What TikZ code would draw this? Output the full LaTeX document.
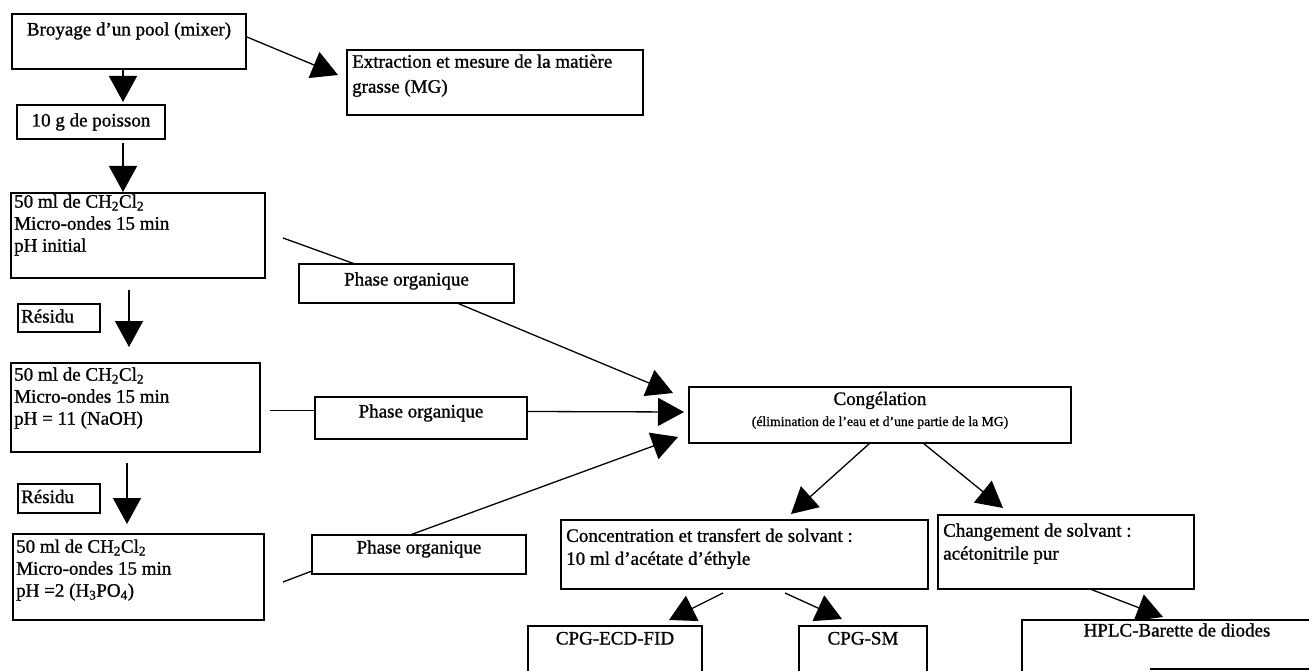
\documentclass[tikz,border=0pt]{standalone}
\usepackage{fontspec}
\setmainfont{Liberation Serif}[FakeBold=1.0]
\usetikzlibrary{arrows.meta,calc}
\begin{document}
\begin{tikzpicture}[x=1pt,y=-1pt,
  boxs/.style={draw, line width=1.4pt, inner sep=0pt, outer sep=0pt, anchor=north west},
  txt/.style={inner sep=0pt, font=\fontsize{19}{22}\selectfont},
  txtl/.style={txt, align=left, anchor=north west},
  arr/.style={line width=1.3pt, -{Triangle[length=26pt,width=28pt]}},
  ln/.style={line width=1.3pt}]
\useasboundingbox[fill=white] (0,0) rectangle (1309,671);
% boxes
\node[boxs, minimum width=234pt, minimum height=55pt] (b) at (12,14) {};
\node[boxs, minimum width=296pt, minimum height=65pt] (ext) at (347,50) {};
\node[boxs, minimum width=148pt, minimum height=34pt] (g10) at (17,105) {};
\node[boxs, minimum width=254pt, minimum height=85pt] (A) at (11,193) {};
\node[boxs, minimum width=82pt, minimum height=28pt] (r1) at (18,304) {};
\node[boxs, minimum width=249pt, minimum height=89pt] (B) at (11,363) {};
\node[boxs, minimum width=82pt, minimum height=29pt] (r2) at (18,484) {};
\node[boxs, minimum width=251pt, minimum height=86pt] (C) at (13,534) {};
\node[boxs, minimum width=215pt, minimum height=39pt] (po1) at (299,264) {};
\node[boxs, minimum width=212pt, minimum height=42pt] (po2) at (315,397) {};
\node[boxs, minimum width=214pt, minimum height=39pt] (po3) at (312,535) {};
\node[boxs, minimum width=382pt, minimum height=56pt] (cong) at (689,387) {};
\node[boxs, minimum width=367pt, minimum height=69pt] (conc) at (561,520) {};
\node[boxs, minimum width=256pt, minimum height=74pt] (chg) at (938,515) {};
\node[boxs, minimum width=174pt, minimum height=64pt] (cpg1) at (528,626) {};
\node[boxs, minimum width=128pt, minimum height=64pt] (cpg2) at (799,626) {};
\node[boxs, minimum width=310pt, minimum height=70pt] (hplc) at (1022,620) {};
% texts
\node[txt, anchor=base] (b-t) at (129,35.5) {Broyage d'un pool (mixer)};
\node[txtl, font=\fontsize{19}{25}\selectfont] (ext-t) at (352,54.3) {Extraction et mesure de la matière\\grasse (MG)};
\node[txt, anchor=base] (g10-t) at (91,126.5) {10 g de poisson};
\node[txtl] (A-t) at (14,194.3) {50 ml de CH\textsubscript{2}Cl\textsubscript{2}\\Micro-ondes 15 min\\pH initial};
\node[txt, anchor=base west] (r1-t) at (21,322.5) {Résidu};
\node[txtl] (B-t) at (14,367.3) {50 ml de CH\textsubscript{2}Cl\textsubscript{2}\\Micro-ondes 15 min\\pH = 11 (NaOH)};
\node[txt, anchor=base west] (r2-t) at (21,503) {Résidu};
\node[txtl] (C-t) at (16,539.3) {50 ml de CH\textsubscript{2}Cl\textsubscript{2}\\Micro-ondes 15 min\\pH =2 (H\textsubscript{3}PO\textsubscript{4})};
\node[txt, anchor=base] (po1-t) at (406.5,285.5) {Phase organique};
\node[txt, anchor=base] (po2-t) at (421,417.5) {Phase organique};
\node[txt, anchor=base] (po3-t) at (419,553.5) {Phase organique};
\node[txt, anchor=base] (cong-t1) at (880,405) {Congélation};
\node[txt, anchor=base, font=\fontsize{13.7}{16}\selectfont] (cong-t2) at (880,426) {(élimination de l'eau et d'une partie de la MG)};
\node[txtl, font=\fontsize{19}{23}\selectfont] (conc-t) at (566,528.3) {Concentration et transfert de solvant :\\10 ml d'acétate d'éthyle};
\node[txtl, font=\fontsize{19}{23}\selectfont] (chg-t) at (943,523.3) {Changement de solvant :\\acétonitrile pur};
\node[txt, anchor=base] (cpg1-t) at (615,644.5) {CPG-ECD-FID};
\node[txt, anchor=base] (cpg2-t) at (863,644.5) {CPG-SM};
\node[txt, anchor=base] (hplc-t) at (1177,636.5) {HPLC-Barette de diodes};
% connectors
\coordinate (xa) at (123,0);
\coordinate (xb) at (129,0);
\coordinate (xc) at (127,0);
\draw[arr] (b.south -| xa) -- ($(g10.north -| xa)+(0,-3)$);
\draw[arr] ($(g10.south -| xa)+(0,4)$) -- ($(A.north -| xa)+(0,-1)$);
\draw[arr] ($(A.south -| xb)+(0,12)$) -- ($(B.north -| xb)+(0,-16)$);
\draw[arr] ($(B.south -| xc)+(0,11)$) -- ($(C.north -| xc)+(0,-10)$);
\draw[arr] ($(b.east)+(1,-4.5)$) -- ($(ext.west)+(-9,-7.5)$);
\draw[ln] ($(A.east)+(18,2.5)$) -- ($(po1.north)+(-51.5,0)$);
\draw[arr] ($(po1.south)+(50.5,0)$) -- ($(cong.west)+(-16,-22)$);
\draw[ln] ($(B.east)+(10,3)$) -- ($(po2.west)+(0,-7.5)$);
\draw[arr] ($(po2.east)+(0,-6.5)$) -- ($(cong.west)+(-5,-3)$);
\draw[ln] ($(C.east)+(19,5)$) -- ($(po3.south west)+(0,-3)$);
\draw[arr] ($(po3.north)+(-9,0)$) -- ($(cong.south west)+(-11,-6)$);
\draw[arr] ($(cong.south)+(-10,0)$) -- ($(conc.north)+(46.5,-6)$);
\draw[arr] ($(cong.south)+(43,0)$) -- ($(chg.north)+(-63,-7)$);
\draw[arr] ($(conc.south)+(-21.5,4)$) -- ($(cpg1.north)+(54,-6)$);
\draw[arr] ($(conc.south)+(40.5,4)$) -- ($(cpg2.north)+(-21,-7)$);
\draw[arr] ($(chg.south)+(24,0)$) -- ($(hplc.north)+(-14,-3)$);
\draw[line width=2pt] (1150,669) -- (1309,669);
\end{tikzpicture}
\end{document}
